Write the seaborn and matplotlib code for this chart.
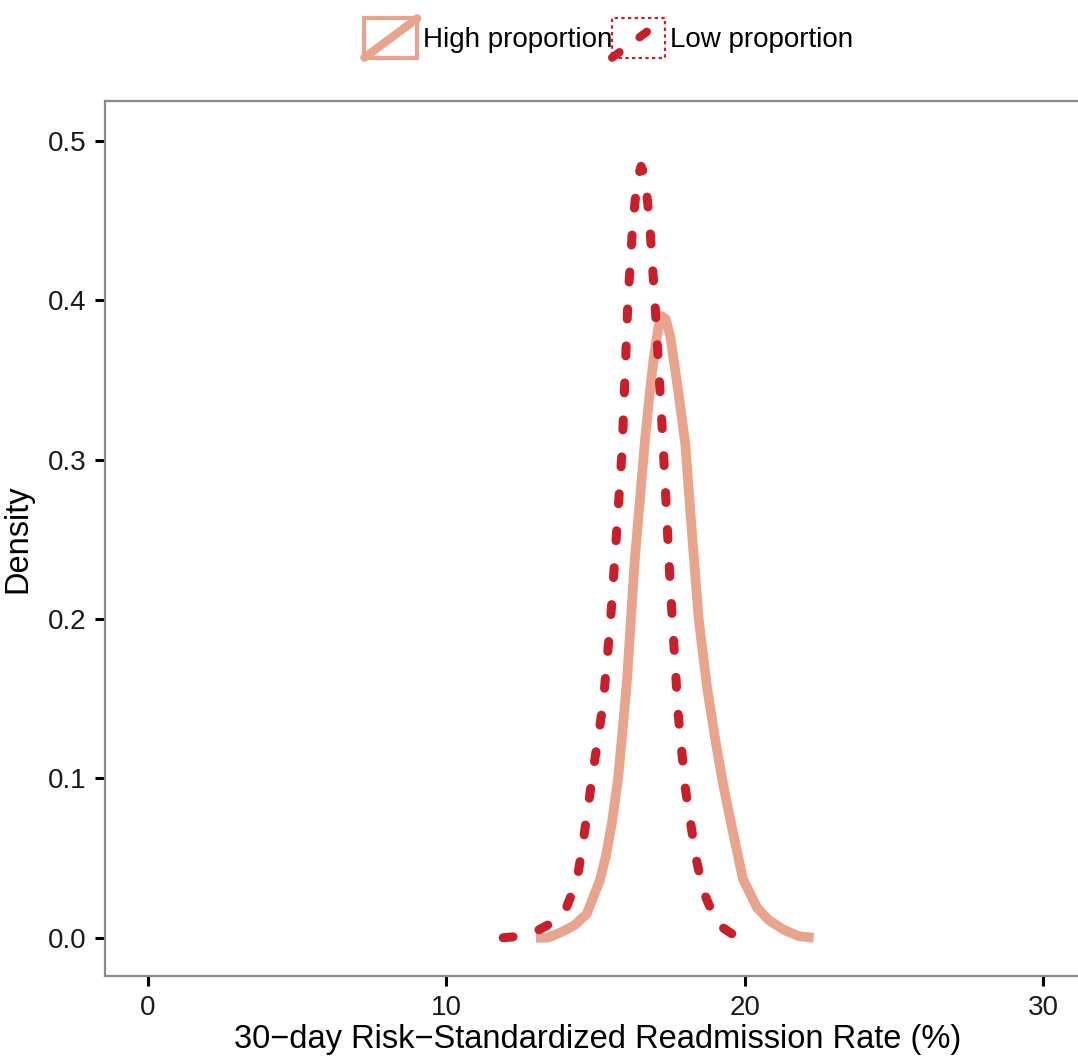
import matplotlib
matplotlib.use("Agg")
import matplotlib.pyplot as plt
import seaborn as sns
import pandas as pd
from matplotlib.legend_handler import HandlerBase
from matplotlib.patches import Rectangle
from matplotlib.lines import Line2D

# density curves
high_x = [13.0, 13.4, 13.9, 14.3, 14.7, 15.14, 15.35, 15.55, 15.75, 15.9, 16.05, 16.3, 16.65, 16.8,
          16.95, 17.1, 17.22, 17.35, 17.5, 17.65, 17.8, 18.0, 18.2, 18.45, 18.73, 19.0, 19.26, 19.6,
          19.93, 20.4, 20.8, 21.3, 21.8, 22.3]
high_y = [0.0, 0.0, 0.004, 0.008, 0.015, 0.036, 0.052, 0.073, 0.1, 0.13, 0.162, 0.235, 0.312, 0.34,
          0.365, 0.383, 0.39, 0.388, 0.377, 0.358, 0.338, 0.31, 0.26, 0.2, 0.157, 0.125, 0.097, 0.066,
          0.037, 0.019, 0.011, 0.005, 0.001, 0.0]

low_x = [11.9, 12.5, 13.0, 13.5, 14.0, 14.37, 14.57, 14.9, 15.25, 15.5, 15.88, 16.08, 16.25, 16.4,
         16.52, 16.65, 16.8, 16.98, 17.25, 17.5, 17.76, 18.0, 18.36, 18.6, 19.06, 19.6, 20.4]
low_y = [0.0, 0.001, 0.004, 0.009, 0.018, 0.036, 0.059, 0.103, 0.147, 0.2, 0.304, 0.4, 0.45, 0.476,
         0.484, 0.478, 0.45, 0.4, 0.312, 0.22, 0.141, 0.094, 0.05, 0.0295, 0.0088, 0.002, 0.0]

groups = ["High proportion", "Low proportion"]
colors = {"High proportion": "#E8A48D", "Low proportion": "#C91F2A"}

df_high = pd.DataFrame({"rate": high_x, "density": high_y})
df_low = pd.DataFrame({"rate": low_x, "density": low_y})

sns.set_style("ticks")
plt.rcParams["font.family"] = ["Liberation Sans", "DejaVu Sans"]

fig = plt.figure(figsize=(10.78, 10.57), dpi=100)
ax = fig.add_axes([105 / 1078, 81 / 1057, 985 / 1078, 875 / 1057])

sns.lineplot(data=df_high, x="rate", y="density", ax=ax, color=colors[groups[0]],
             lw=7, solid_capstyle="butt", solid_joinstyle="round", sort=False, label=groups[0])
sns.lineplot(data=df_low, x="rate", y="density", ax=ax, color=colors[groups[1]],
             lw=6.5, linestyle=(0, (1.1, 3.0)), dash_capstyle="round", sort=False,
             label=groups[1])

ax.set_xlim(-1.44, 31.56)
ax.set_ylim(-0.024, 0.525)
ax.set_xticks([0, 10, 20, 30])
ax.set_yticks([0.0, 0.1, 0.2, 0.3, 0.4, 0.5])
ax.set_yticklabels(["0.0", "0.1", "0.2", "0.3", "0.4", "0.5"])
ax.tick_params(axis="both", direction="out", length=7.5, width=2.2, color="black",
               labelsize=20, labelcolor="#1a1a1a", pad=6)
for s in ax.spines.values():
    s.set_visible(True)
    s.set_color("#8a8a8a")
    s.set_linewidth(1.6)

ax.set_xlabel("30\u2212day Risk\u2212Standardized Readmission Rate (%)", fontsize=23.5, labelpad=2,
              color="black")
ax.set_ylabel("Density", fontsize=23.5, labelpad=10, color="black")


class BoxLineHandler(HandlerBase):
    def create_artists(self, legend, orig_handle, xdescent, ydescent, width, height, fontsize, trans):
        col = orig_handle.get_color()
        dotted = orig_handle.get_linestyle() != "-"
        rect = Rectangle((-xdescent, -ydescent), width, height, fill=False, edgecolor=col,
                         linewidth=1.6 if dotted else 3.0,
                         linestyle=(0, (1.5, 1.5)) if dotted else "-")
        diag = Line2D([-xdescent, -xdescent + width], [-ydescent, -ydescent + height],
                      color=col, lw=6,
                      linestyle=(0, (1.1, 3.0)) if dotted else "-",
                      dash_capstyle="round", solid_capstyle="round")
        rect.set_transform(trans)
        diag.set_transform(trans)
        return [rect, diag]


handles, labels = ax.get_legend_handles_labels()
if ax.legend_:
    ax.legend_.remove()
leg = fig.legend(handles, labels, loc="center", bbox_to_anchor=(609 / 1078, 1 - 38 / 1057),
                 ncol=2, frameon=False, fontsize=20, handlelength=1.9, handleheight=1.8,
                 handletextpad=0.2, columnspacing=0.0,
                 handler_map={h: BoxLineHandler() for h in handles})
for t in leg.get_texts():
    t.set_color("black")

fig.savefig("out.png", dpi=100)
